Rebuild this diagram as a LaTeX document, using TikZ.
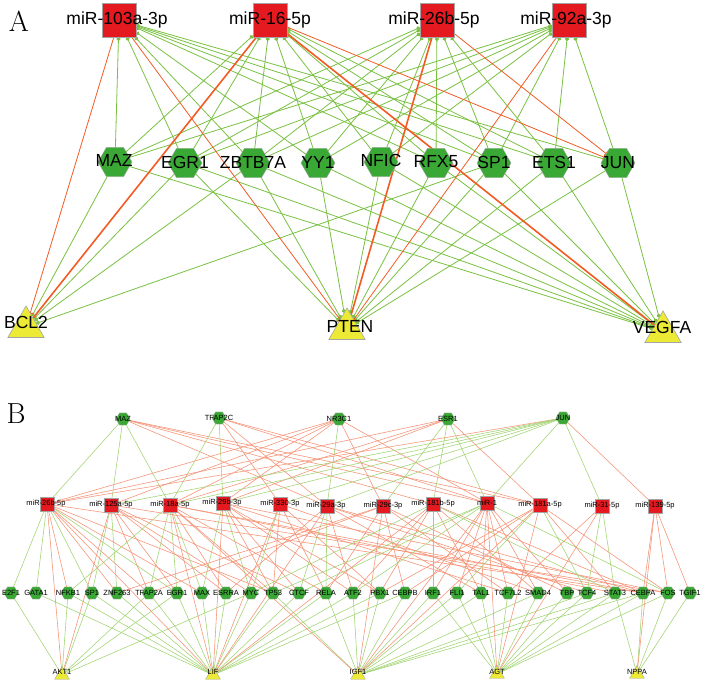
\documentclass[tikz,border=0pt]{standalone}
\usepackage{fontspec}
\setsansfont{Liberation Sans}
\usetikzlibrary{shapes.geometric,arrows.meta}
\pgfdeclarelayer{edgelayer}
\pgfsetlayers{edgelayer,main}
\definecolor{mirred}{RGB}{228,26,32}
\definecolor{tfgreen}{RGB}{58,168,52}
\definecolor{tgyellow}{RGB}{236,234,52}
\definecolor{bordergray}{RGB}{165,165,165}
\definecolor{edgegreen}{RGB}{122,193,66}
\definecolor{edgered}{RGB}{242,92,36}
\definecolor{bgreen}{RGB}{160,212,112}
\definecolor{bred}{RGB}{246,145,115}
\begin{document}
\begin{tikzpicture}[x=1pt,y=-1pt,
  mirA/.style={rectangle,draw=bordergray,line width=0.6pt,fill=mirred,minimum size=34pt,inner sep=0pt,outer sep=0pt},
  tfA/.style={regular polygon,regular polygon sides=6,minimum size=34pt,fill=tfgreen,draw=bordergray,line width=0.4pt,inner sep=0pt,outer sep=0pt},
  tgA/.style={regular polygon,regular polygon sides=3,minimum size=42pt,fill=tgyellow,draw=bordergray,line width=0.6pt,inner sep=0pt,outer sep=0pt},
  labA/.style={font=\sffamily\fontsize{17.5}{17.5}\selectfont,inner sep=0pt,text=black},
  edgeAg/.style={draw=edgegreen,line width=0.8pt,-{Circle[length=4pt]}},
  edgeAr/.style={draw=edgered,line width=0.8pt,-{Bar[width=7pt]}},
  edgeArk/.style={draw=edgered,line width=1.6pt},
  mirB/.style={rectangle,draw=bordergray,line width=0.4pt,fill=mirred,minimum size=14pt,inner sep=0pt,outer sep=0pt},
  tfB/.style={regular polygon,regular polygon sides=6,minimum size=14pt,fill=tfgreen,draw=bordergray,line width=0.3pt,inner sep=0pt,outer sep=0pt},
  tgB/.style={regular polygon,regular polygon sides=3,minimum size=17pt,fill=tgyellow,draw=bordergray,line width=0.4pt,inner sep=0pt,outer sep=0pt},
  labB/.style={font=\sffamily\fontsize{7.5}{7.5}\selectfont,inner sep=0pt,text=black},
  edgeBg/.style={draw=bgreen,line width=0.55pt},
  edgeBr/.style={draw=bred,line width=0.55pt}
]
\useasboundingbox (0,0) rectangle (701,684);
\begin{pgfonlayer}{edgelayer}
\fill[white] (0,0) rectangle (701,684);
\end{pgfonlayer}

% ---------------- Panel A ----------------
\node[font=\fontsize{29}{29}\selectfont,inner sep=0pt] (panelA) at (19,21) {A};

\node[mirA] (Am103) at (119,20) {};
\node[mirA] (Am16) at (270,20) {};
\node[mirA] (Am26) at (437,20) {};
\node[mirA] (Am92) at (569,20) {};

\node[tfA] (AMAZ) at (115,162) {};
\node[tfA] (AEGR1) at (185,163) {};
\node[tfA] (AZBTB7A) at (253,163) {};
\node[tfA] (AYY1) at (318,163) {};
\node[tfA] (ANFIC) at (381,162) {};
\node[tfA] (ARFX5) at (436,163) {};
\node[tfA] (ASP1) at (494,163) {};
\node[tfA] (AETS1) at (554,163) {};
\node[tfA] (AJUN) at (618,163) {};

\node[tgA] (ABCL2) at (26,327) {};
\node[tgA] (APTEN) at (347,329) {};
\node[tgA] (AVEGFA) at (663,332) {};

\begin{pgfonlayer}{edgelayer}
\foreach \t/\m in {
  AMAZ/Am103,AEGR1/Am103,AZBTB7A/Am103,AYY1/Am103,ARFX5/Am103,ASP1/Am103,AETS1/Am103,AJUN/Am103,
  AMAZ/Am16,AEGR1/Am16,AZBTB7A/Am16,AYY1/Am16,ANFIC/Am16,ARFX5/Am16,ASP1/Am16,AETS1/Am16,
  AMAZ/Am26,AEGR1/Am26,AZBTB7A/Am26,AYY1/Am26,ANFIC/Am26,ARFX5/Am26,ASP1/Am26,AETS1/Am26,
  AMAZ/Am92,AEGR1/Am92,AZBTB7A/Am92,AYY1/Am92,ANFIC/Am92,ASP1/Am92,AETS1/Am92,AJUN/Am92,
  AMAZ/ABCL2,AEGR1/ABCL2,AZBTB7A/ABCL2,ASP1/ABCL2,
  AEGR1/APTEN,AZBTB7A/APTEN,AYY1/APTEN,ANFIC/APTEN,ARFX5/APTEN,ASP1/APTEN,AETS1/APTEN,AJUN/APTEN,
  AMAZ/AVEGFA,AEGR1/AVEGFA,AZBTB7A/AVEGFA,AYY1/AVEGFA,ANFIC/AVEGFA,ARFX5/AVEGFA,ASP1/AVEGFA,AETS1/AVEGFA,AJUN/AVEGFA}
  \draw[edgeAg] (\t) -- (\m);
\foreach \m/\t in {Am103/ABCL2,Am103/APTEN,Am16/AJUN,Am26/AJUN,Am92/APTEN}
  \draw[edgeAr] (\m) -- (\t);
\foreach \m/\t in {Am16/ABCL2,Am16/AVEGFA,Am26/APTEN}
  \draw[edgeArk] (\m) -- (\t);
\end{pgfonlayer}

\node[labA] (Am103l) at (117,20) {miR-103a-3p};
\node[labA] (Am16l) at (270,20) {miR-16-5p};
\node[labA] (Am26l) at (434,20) {miR-26b-5p};
\node[labA] (Am92l) at (566,20) {miR-92a-3p};
\node[labA] (AMAZl) at (114,160) {MAZ};
\node[labA] (AEGR1l) at (185,162) {EGR1};
\node[labA] (AZBTB7Al) at (253,162) {ZBTB7A};
\node[labA] (AYY1l) at (318,162) {YY1};
\node[labA] (ANFICl) at (381,160) {NFIC};
\node[labA] (ARFX5l) at (436,162) {RFX5};
\node[labA] (ASP1l) at (494,162) {SP1};
\node[labA] (AETS1l) at (554,162) {ETS1};
\node[labA] (AJUNl) at (618,163) {JUN};
\node[labA] (ABCL2l) at (26,322) {BCL2};
\node[labA] (APTENl) at (350,326) {PTEN};
\node[labA] (AVEGFAl) at (662,327) {VEGFA};

% ---------------- Panel B ----------------
\node[font=\fontsize{29}{29}\selectfont,inner sep=0pt] (panelB) at (16,414) {B};

\node[tfB] (BtMAZ) at (123,419) {};
\node[tfB] (BtTFAP2C) at (219,418) {};
\node[tfB] (BtNR3C1) at (339,419) {};
\node[tfB] (BtESR1) at (448,419) {};
\node[tfB] (BtJUN) at (563,418) {};

\foreach \n/\x/\y in {m26b/47/504,m125a/111/505,m18a/170/505,m29b/223/503,m330/280/504,m29a/327/506,
  m29c/383/506,m181b/433/504,m1/487/503,m181a/540/505,m31/602/506,m139/655/506}
  \node[mirB] (B\n) at (\x,\y) {};

\foreach \n/\x in {E2F1/11,GATA1/36,NFKB1/68,SP1/92,ZNF263/117,TFAP2A/149,EGR1/177,MAX/202,ESRRA/226,
  MYC/251,TP53/273,CTCF/299,RELA/326,ATF2/353,PBX1/380,CEBPB/405,IRF1/433,FLI1/457,TAL1/481,
  TCF7L2/508,SMAD4/538,TBP/567,TCF4/587,STAT3/615,CEBPA/643,FOS/668,TGIF1/690}
  \node[tfB] (Bb\n) at (\x,593) {};

\node[tgB] (BxAKT1) at (62,675) {};
\node[tgB] (BxLIF) at (213,675) {};
\node[tgB] (BxIGF1) at (358,675) {};
\node[tgB] (BxAGT) at (497,674) {};
\node[tgB] (BxNPPA) at (637,674) {};

\begin{pgfonlayer}{edgelayer}
% top TFs to miRNAs
\foreach \a/\b/\c in {
  BtMAZ/Bm26b/g,BtMAZ/Bm125a/g,BtMAZ/Bm18a/g,BtMAZ/Bm29a/r,BtMAZ/Bm181b/r,BtMAZ/Bm1/r,BtMAZ/Bm181a/r,
  BtTFAP2C/Bm18a/g,BtTFAP2C/Bm29b/g,BtTFAP2C/Bm330/r,BtTFAP2C/Bm29a/r,BtTFAP2C/Bm181a/r,BtTFAP2C/Bm1/r,
  BtNR3C1/Bm26b/r,BtNR3C1/Bm18a/r,BtNR3C1/Bm125a/r,BtNR3C1/Bm29b/r,BtNR3C1/Bm29a/g,BtNR3C1/Bm1/r,BtNR3C1/Bm29c/r,
  BtESR1/Bm26b/r,BtESR1/Bm18a/r,BtESR1/Bm29b/r,BtESR1/Bm181b/g,BtESR1/Bm1/g,BtESR1/Bm181a/r,BtESR1/Bm29c/g,
  BtJUN/Bm26b/r,BtJUN/Bm125a/g,BtJUN/Bm18a/g,BtJUN/Bm29b/g,BtJUN/Bm330/g,BtJUN/Bm29a/g,BtJUN/Bm1/g,BtJUN/Bm31/g,BtJUN/Bm139/r}
  \draw[edgeB\c] (\a) -- (\b);
% miRNAs to bottom TFs
\foreach \a/\b/\c in {
  m26b/E2F1/g,m26b/GATA1/g,m26b/NFKB1/r,m26b/SP1/g,m26b/ZNF263/r,m26b/TFAP2A/r,m26b/EGR1/g,m26b/MAX/r,m26b/TP53/r,m26b/CEBPA/r,
  m125a/SP1/g,m125a/ZNF263/g,m125a/TFAP2A/r,m125a/EGR1/r,m125a/ESRRA/r,m125a/MYC/r,m125a/CTCF/r,m125a/FOS/r,
  m18a/NFKB1/g,m18a/TFAP2A/g,m18a/EGR1/g,m18a/MAX/g,m18a/ESRRA/r,m18a/TP53/r,m18a/RELA/r,m18a/CEBPA/r,m18a/STAT3/r,
  m29b/MAX/g,m29b/MYC/g,m29b/TP53/r,m29b/CTCF/r,m29b/ATF2/r,m29b/PBX1/r,m29b/TCF7L2/r,m29b/FOS/r,
  m330/MYC/g,m330/TP53/r,m330/RELA/r,m330/PBX1/r,m330/SMAD4/r,
  m29a/ESRRA/r,m29a/CTCF/g,m29a/RELA/g,m29a/ATF2/r,m29a/TAL1/r,m29a/TCF4/r,m29a/CEBPA/r,
  m29c/ZNF263/r,m29c/TFAP2A/r,m29c/RELA/r,m29c/CEBPB/r,m29c/TCF7L2/r,m29c/TBP/r,
  m181b/MYC/g,m181b/ATF2/r,m181b/PBX1/r,m181b/IRF1/g,m181b/TAL1/r,m181b/SMAD4/r,m181b/STAT3/g,m181b/CEBPA/r,
  m1/TP53/g,m1/CTCF/g,m1/ATF2/g,m1/IRF1/r,m1/FLI1/r,m1/TAL1/r,m1/TCF7L2/r,m1/SMAD4/r,m1/TBP/r,m1/FOS/g,
  m181a/PBX1/r,m181a/CEBPB/r,m181a/FLI1/g,m181a/TCF4/g,m181a/STAT3/r,m181a/FOS/r,
  m31/TCF7L2/r,m31/TCF4/g,m31/STAT3/g,
  m139/CEBPA/r,m139/FOS/r,m139/TGIF1/r}
  \draw[edgeB\c] (B\a) -- (Bb\b);
% bottom TFs to targets
\foreach \a/\b in {
  E2F1/AKT1,SP1/AKT1,NFKB1/AKT1,EGR1/AKT1,MYC/AKT1,TFAP2A/AKT1,
  GATA1/LIF,NFKB1/LIF,ZNF263/LIF,TFAP2A/LIF,EGR1/LIF,MAX/LIF,ESRRA/LIF,MYC/LIF,TP53/LIF,CTCF/LIF,RELA/LIF,SP1/LIF,PBX1/LIF,ATF2/LIF,CEBPB/LIF,
  RELA/IGF1,ATF2/IGF1,PBX1/IGF1,CEBPB/IGF1,IRF1/IGF1,FLI1/IGF1,TAL1/IGF1,SMAD4/IGF1,TCF4/IGF1,STAT3/IGF1,CEBPA/IGF1,TP53/IGF1,
  IRF1/AGT,FLI1/AGT,TAL1/AGT,TCF7L2/AGT,SMAD4/AGT,TBP/AGT,TCF4/AGT,STAT3/AGT,CEBPA/AGT,FOS/AGT,
  STAT3/NPPA,CEBPA/NPPA,FOS/NPPA,TGIF1/NPPA}
  \draw[edgeBg] (Bb\a) -- (Bx\b);
% miRNAs to targets
\foreach \a/\b in {
  m26b/AKT1,m125a/AKT1,m26b/LIF,m18a/LIF,m29b/LIF,m330/LIF,m29a/LIF,m181b/LIF,
  m1/IGF1,m29c/IGF1,m181a/IGF1,m18a/IGF1,m1/AGT,m181a/AGT,m31/AGT,m139/NPPA}
  \draw[edgeBr] (B\a) -- (Bx\b);
\end{pgfonlayer}

% labels B
\node[labB] (BtMAZl) at (123,419) {MAZ};
\node[labB] (BtTFAP2Cl) at (219,418) {TFAP2C};
\node[labB] (BtNR3C1l) at (339,419) {NR3C1};
\node[labB] (BtESR1l) at (448,419) {ESR1};
\node[labB] (BtJUNl) at (563,418) {JUN};
\foreach \n/\t/\x/\y in {m26b/miR-26b-5p/46/504,m125a/miR-125a-5p/111/505,m18a/miR-18a-5p/170/505,
  m29b/miR-29b-3p/222/503,m330/miR-330-3p/280/504,m29a/miR-29a-3p/326/506,m29c/miR-29c-3p/383/506,
  m181b/miR-181b-5p/433/504,m1/miR-1/487/503,m181a/miR-181a-5p/540/505,m31/miR-31-5p/602/506,m139/miR-139-5p/655/506}
  \node[labB] (B\n l) at (\x,\y) {\t};
\foreach \n/\x in {E2F1/11,GATA1/36,NFKB1/68,SP1/92,ZNF263/117,TFAP2A/149,EGR1/177,MAX/202,ESRRA/226,
  MYC/251,TP53/273,CTCF/299,RELA/326,ATF2/353,PBX1/380,CEBPB/405,IRF1/433,FLI1/457,TAL1/481,
  TCF7L2/508,SMAD4/538,TBP/567,TCF4/587,STAT3/615,CEBPA/643,FOS/668,TGIF1/690}
  \node[labB] (Bb\n l) at (\x,593) {\n};
\node[labB] (BxAKT1l) at (62,672) {AKT1};
\node[labB] (BxLIFl) at (213,672) {LIF};
\node[labB] (BxIGF1l) at (358,672) {IGF1};
\node[labB] (BxAGTl) at (497,672) {AGT};
\node[labB] (BxNPPAl) at (637,672) {NPPA};
\end{tikzpicture}
\end{document}
